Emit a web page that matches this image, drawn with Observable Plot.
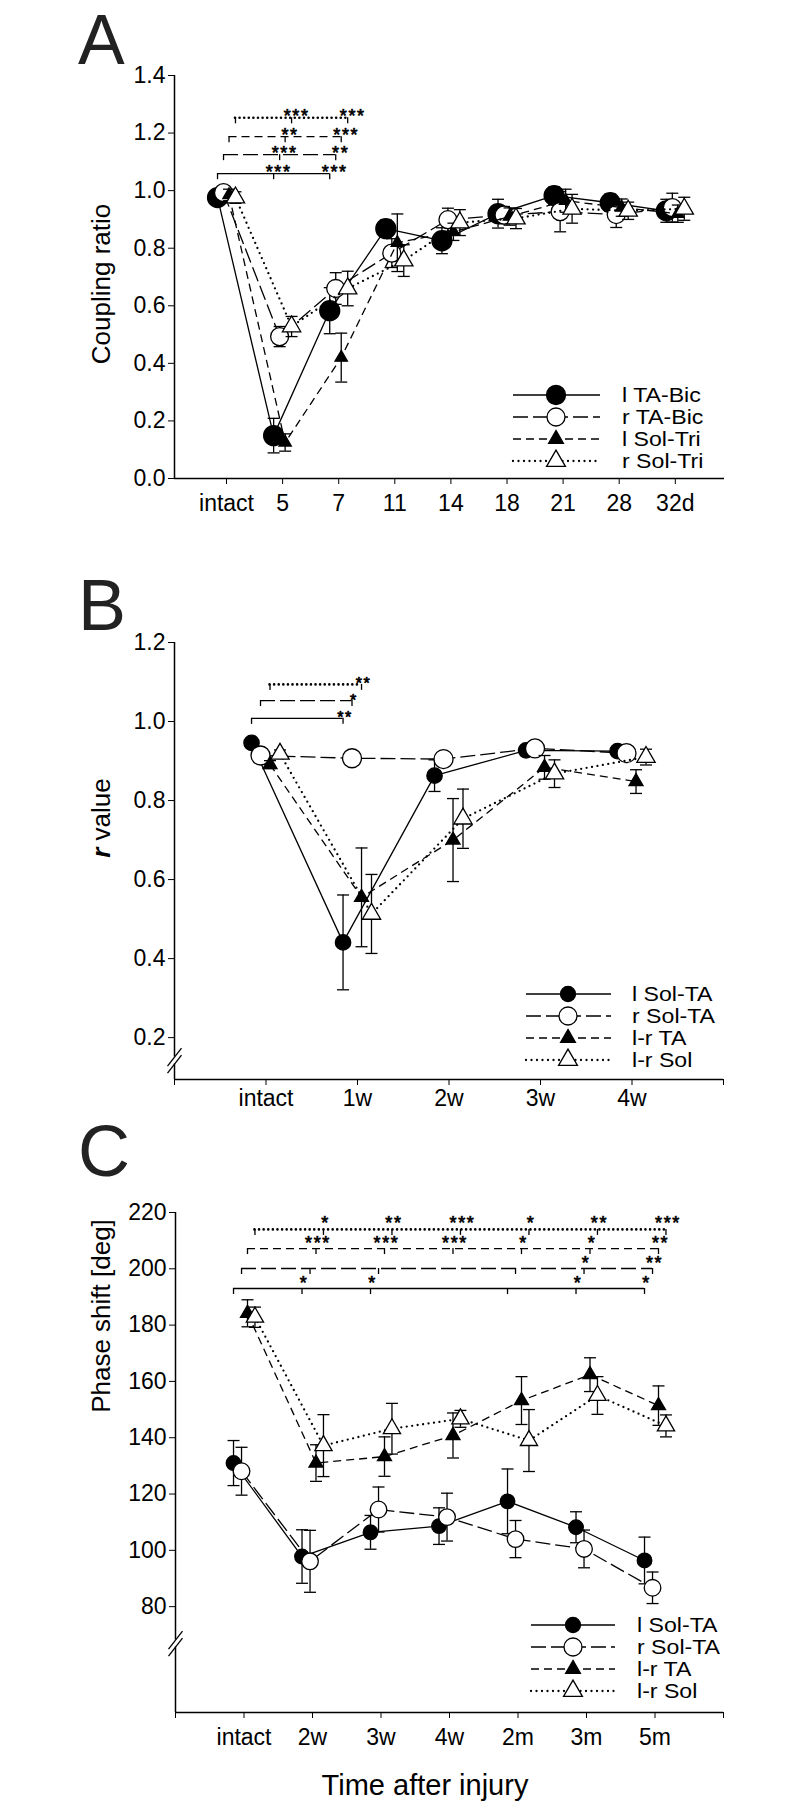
<!DOCTYPE html>
<html>
<head>
<meta charset="utf-8">
<script src="https://cdn.jsdelivr.net/npm/d3@7"></script>
<script src="https://cdn.jsdelivr.net/npm/@observablehq/plot@0.6"></script>
<style>
  html, body { margin: 0; padding: 0; background: #fff; }
  #wrap { position: relative; width: 800px; height: 1812px; overflow: hidden; }
  #wrap svg { position: absolute; left: 0; }
</style>
</head>
<body>
<div id="wrap"></div>
<script>
// ================= DATA =================
// Panel A : coupling ratio
const aTimes = ["intact", "5", "7", "11", "14", "18", "21", "28", "32d"];
const aSeries = ["l TA-Bic", "r TA-Bic", "l Sol-Tri", "r Sol-Tri"];
const aLTABic    = [0.976, 0.149, 0.583, 0.868, 0.826, 0.920, 0.983, 0.958, 0.930];
const aLTABicSE  = [0.020, 0.060, 0.080, 0.030, 0.045, 0.050, 0.030, 0.030, 0.040];
const aRTABic    = [0.993, 0.493, 0.660, 0.783, 0.899, 0.915, 0.927, 0.917, 0.941];
const aRTABicSE  = [0.020, 0.035, 0.055, 0.050, 0.040, 0.030, 0.070, 0.045, 0.050];
const aLSolTri   = [0.985, 0.125, 0.420, 0.819, 0.857, 0.910, 0.965, 0.941, 0.920];
const aLSolTriSE = [0.020, 0.030, 0.085, 0.100, 0.030, 0.030, 0.040, 0.030, 0.030];
const aRSolTri   = [0.976, 0.528, 0.660, 0.757, 0.889, 0.903, 0.937, 0.930, 0.937];
const aRSolTriSE = [0.020, 0.035, 0.060, 0.055, 0.045, 0.035, 0.050, 0.030, 0.040];
const aYTicks = [0, 0.2, 0.4, 0.6, 0.8, 1.0, 1.2, 1.4];
const aSigLevels = [1.059, 1.125, 1.1875, 1.253];
const aSigStars = [["", "***", "***"], ["", "***", "**"], ["", "**", "***"], ["", "***", "***"]];

// Panel B : r value
const bTimes = ["intact", "1w", "2w", "3w", "4w"];
const bSeries = ["l Sol-TA", "r Sol-TA", "l-r TA", "l-r Sol"];
const bLSolTA   = [0.946, 0.441, 0.863, 0.927, 0.925];
const bLSolTASE = [0.010, 0.120, 0.040, 0.010, 0.010];
const bRSolTA   = [0.914, 0.907, 0.905, 0.932, 0.920];
const bRSolTASE = [0.010, 0.010, 0.010, 0.010, 0.010];
const bLrTA     = [0.891, 0.555, 0.700, 0.884, 0.848];
const bLrTASE   = [0.010, 0.125, 0.105, 0.030, 0.030];
const bLrSol    = [0.918, 0.513, 0.754, 0.868, 0.910];
const bLrSolSE  = [0.010, 0.100, 0.075, 0.035, 0.020];
const bYTicks = [0.2, 0.4, 0.6, 0.8, 1.0, 1.2];
const bSigLevels = [1.008, 1.053, 1.094];
const bSigStars = [["", "**"], ["", "*"], ["", "**"]];

// Panel C : phase shift
const cTimes = ["intact", "2w", "3w", "4w", "2m", "3m", "5m"];
const cSeries = ["l Sol-TA", "r Sol-TA", "l-r TA", "l-r Sol"];
const cLSolTA   = [131.0, 97.8, 106.4, 108.6, 117.4, 108.2, 96.4];
const cLSolTASE = [8.0, 9.5, 6.0, 6.5, 11.5, 5.5, 8.3];
const cRSolTA   = [128.1, 96.1, 114.5, 111.8, 104.0, 100.5, 86.7];
const cRSolTASE = [8.5, 11.0, 8.0, 8.5, 6.6, 6.7, 5.6];
const cLrTA     = [184.2, 131.0, 133.3, 140.8, 153.2, 162.4, 151.4];
const cLrTASE   = [4.8, 6.5, 7.0, 8.0, 8.5, 6.0, 7.0];
const cLrSol    = [182.8, 137.2, 143.2, 146.7, 139.0, 155.0, 144.2];
const cLrSolSE  = [3.6, 11.0, 9.0, 3.0, 11.0, 6.7, 3.9];
const cYTicks = [80, 100, 120, 140, 160, 180, 200, 220];
const cSigLevels = [193.0, 200.1, 207.2, 214.0];
const cSigStars = [
  ["", "*", "*", "", "", "*", "*"],
  ["", "", "", "", "", "*", "**"],
  ["", "***", "***", "***", "*", "*", "**"],
  ["", "*", "**", "***", "*", "**", "***"]
];
const cSigTickTimes = [0, 1, 2, 4, 5, 6];

// ================= STYLE / LAYOUT =================
const FONT = '"Liberation Sans", Arial, Helvetica, sans-serif';
const lineStyles = [
  {dash: null, cap: "butt", width: 1.3, barWidth: 1.3},
  {dash: "15,5", cap: "butt", width: 1.3, barWidth: 1.3},
  {dash: "8,5", cap: "butt", width: 1.3, barWidth: 1.3},
  {dash: "0,5.5", cap: "round", width: 2.3, barWidth: 2.6}
];
const symStyles = [
  {symbol: "circle", fill: "black"},
  {symbol: "circle", fill: "white"},
  {symbol: "triangle", fill: "black"},
  {symbol: "triangle", fill: "white"}
];
const capSymbol = {
  draw(ctx, size) { const w = Math.sqrt(size / Math.PI); ctx.moveTo(-w, 0); ctx.lineTo(w, 0); }
};

const wrap = document.getElementById("wrap");

function makePanel(P) {
  const c = P.cfg;
  const pxX = (800 - c.ml - c.mr) / (c.xDomain[1] - c.xDomain[0]);
  const pxY = (c.height - c.mt - c.mb) / (c.yDomain[1] - c.yDomain[0]);
  const x0 = c.xDomain[0], y0 = c.yDomain[0], yTop = c.yDomain[1];
  const marks = [];
  // axis lines
  marks.push(Plot.ruleY([y0], {stroke: "black", strokeWidth: 1.5}));
  if (c.brk != null) {
    const g = 3.5 / pxY;
    marks.push(Plot.ruleX([x0], {y1: y0, y2: c.brk - g, stroke: "black", strokeWidth: 1.5}));
    marks.push(Plot.ruleX([x0], {y1: c.brk + g, y2: yTop, stroke: "black", strokeWidth: 1.5}));
    const bl = [-g, g].map(o => ({x1: x0 - 7 / pxX, y1: c.brk + o - 9 / pxY, x2: x0 + 7 / pxX, y2: c.brk + o + 9 / pxY}));
    marks.push(Plot.link(bl, {x1: "x1", y1: "y1", x2: "x2", y2: "y2", stroke: "black", strokeWidth: 1.3}));
  } else {
    marks.push(Plot.ruleX([x0], {y1: y0, y2: yTop, stroke: "black", strokeWidth: 1.5}));
  }
  // significance bars
  P.sig.forEach(b => {
    const off = c.dodge[b.owner];
    const st = lineStyles[b.style];
    const last = b.stars.length - 1;
    marks.push(Plot.ruleY([b.level], {x1: off, x2: last + off, stroke: "black", strokeWidth: st.barWidth,
      strokeDasharray: st.dash === "0,5.5" ? "0,4.6" : st.dash, strokeLinecap: st.cap}));
    const tickRows = b.ticks.map(i => ({x: i + off, y1: b.level, y2: b.level - 6 / pxY}));
    marks.push(Plot.ruleX(tickRows, {x: "x", y1: "y1", y2: "y2", stroke: "black", strokeWidth: 1.3}));
    const starRows = b.stars.map((s, i) => ({x: i + off, y: b.level, s})).filter(d => d.s);
    marks.push(Plot.text(starRows, {x: "x", y: "y", text: "s", dx: c.starDx, dy: c.starDy, lineAnchor: "bottom",
      fontSize: c.starSize, fill: "black", stroke: "black", strokeWidth: 0.7}));
  });
  // series
  P.values.forEach((vals, k) => {
    const rows = vals.map((v, i) => ({x: i + c.dodge[k], y: v, e: P.errors[k][i]}));
    const st = lineStyles[k], sy = symStyles[k];
    marks.push(Plot.ruleX(rows, {x: "x", y1: d => d.y - d.e, y2: d => d.y + d.e, stroke: "black", strokeWidth: 1.3}));
    marks.push(Plot.dot(rows, {x: "x", y: d => d.y - d.e, symbol: capSymbol, r: 6, stroke: "black", strokeWidth: 1.3, fill: "none"}));
    marks.push(Plot.dot(rows, {x: "x", y: d => d.y + d.e, symbol: capSymbol, r: 6, stroke: "black", strokeWidth: 1.3, fill: "none"}));
    marks.push(Plot.line(rows, {x: "x", y: "y", stroke: "black", strokeWidth: st.width, strokeDasharray: st.dash, strokeLinecap: st.cap}));
    marks.push(Plot.dot(rows, {x: "x", y: "y", symbol: sy.symbol, r: c.r[k], fill: sy.fill, stroke: "black", strokeWidth: 1.3}));
  });
  const svg = Plot.plot({
    width: 800, height: c.height,
    marginTop: c.mt, marginBottom: c.mb, marginLeft: c.ml, marginRight: c.mr,
    style: {fontFamily: FONT, fontSize: "23px", color: "black", background: "transparent", overflow: "visible"},
    x: {domain: c.xDomain, ticks: c.xTicks, tickFormat: v => (P.times[v] ?? ""), tickSize: 6, tickPadding: c.xPad, label: null},
    y: {domain: c.yDomain, ticks: P.yTicks, tickFormat: c.yFmt, tickSize: 6, tickPadding: 3, label: null},
    marks
  });
  // widen the significance asterisks a little (letter spacing only)
  d3.select(svg).selectAll("text").filter(function () { return /^\*+$/.test(this.textContent); })
    .attr("letter-spacing", "1.6px");
  svg.style.top = c.top + "px";
  wrap.appendChild(svg);
}

const sigBars = (levels, stars, owners, styles, ticksFn) =>
  levels.map((level, j) => ({level, stars: stars[j], owner: owners[j], style: styles[j], ticks: ticksFn(stars[j])}));

makePanel({
  times: aTimes, yTicks: aYTicks,
  values: [aLTABic, aRTABic, aLSolTri, aRSolTri],
  errors: [aLTABicSE, aRTABicSE, aLSolTriSE, aRSolTriSE],
  sig: sigBars(aSigLevels, aSigStars, [0, 1, 2, 3], [0, 1, 2, 3], s => s.map((_, i) => i)),
  cfg: {top: 0, height: 540, mt: 75, mb: 62, ml: 174, mr: 76, xDomain: [-0.927, 8.877], yDomain: [0, 1.4],
        xTicks: [0, 1, 2, 3, 4, 5, 6, 7, 8], xPad: 10, yFmt: d3.format(".1f"),
        dodge: [-0.16, -0.053, 0.045, 0.16], r: [10, 9, 4.6, 6.8], starDx: 5, starDy: 4, starSize: 18, brk: null}
});

makePanel({
  times: bTimes, yTicks: bYTicks,
  values: [bLSolTA, bRSolTA, bLrTA, bLrSol],
  errors: [bLSolTASE, bRSolTASE, bLrTASE, bLrSolSE],
  sig: sigBars(bSigLevels, bSigStars, [0, 1, 2], [0, 1, 3], s => s.map((_, i) => i)),
  cfg: {top: 540, height: 590, mt: 102, mb: 51, ml: 174, mr: 77, xDomain: [-1, 5], yDomain: [0.094, 1.2],
        xTicks: [-1, 0, 1, 2, 3, 4, 5], xPad: 4, yFmt: d3.format(".1f"),
        dodge: [-0.158, -0.06, 0.044, 0.153], r: [7.7, 9.5, 5.2, 6.8], starDx: 2, starDy: 5, starSize: 16, brk: 0.142}
});

makePanel({
  times: cTimes, yTicks: cYTicks,
  values: [cLSolTA, cRSolTA, cLrTA, cLrSol],
  errors: [cLSolTASE, cRSolTASE, cLrTASE, cLrSolSE],
  sig: sigBars(cSigLevels, cSigStars, [0, 1, 2, 3], [0, 1, 2, 3],
               s => Array.from(new Set([...cSigTickTimes, ...s.map((v, i) => v ? i : null).filter(v => v != null)]))),
  cfg: {top: 1130, height: 682, mt: 82, mb: 100, ml: 175, mr: 77, xDomain: [-1, 7], yDomain: [42.4, 220],
        xTicks: [-1, 0, 1, 2, 3, 4, 5, 6, 7], xPad: 10, yFmt: d3.format("d"),
        dodge: [-0.153, -0.036, 0.051, 0.16], r: [7.3, 8.3, 5.2, 6.4], starDx: 2, starDy: 0, starSize: 18, brk: 66.9}
});

// ================= OVERLAY: letters, titles, legends =================
const ov = d3.select(wrap).append("svg")
  .attr("width", 800).attr("height", 1812)
  .style("top", "0px").style("pointer-events", "none")
  .style("font-family", FONT);

[["A", 64, 70], ["B", 630, 72], ["C", 1176, 72]].forEach(([t, y, fs]) =>
  ov.append("text").attr("x", 78).attr("y", y).attr("font-size", fs).attr("fill", "#222").text(t));

function yTitle(x, y, build) {
  const t = ov.append("text").attr("transform", `translate(${x},${y}) rotate(-90)`)
    .attr("text-anchor", "middle").attr("font-size", 26).attr("fill", "black");
  build(t);
}
yTitle(110, 284, t => t.text("Coupling ratio"));
yTitle(110, 818, t => { t.append("tspan").attr("font-style", "italic").attr("font-weight", "bold").text("r"); t.append("tspan").text(" value"); });
yTitle(110, 1316, t => t.text("Phase shift [deg]"));

ov.append("text").attr("x", 425).attr("y", 1795).attr("text-anchor", "middle")
  .attr("font-size", 29).attr("fill", "black").text("Time after injury");

function legend(names, L) {
  names.forEach((name, k) => {
    const y = L.y0 + k * L.dy;
    const st = lineStyles[k], sy = symStyles[k];
    ov.append("line").attr("x1", L.l1).attr("x2", L.l2).attr("y1", y).attr("y2", y)
      .attr("stroke", "black").attr("stroke-width", st.width)
      .attr("stroke-dasharray", st.dash).attr("stroke-linecap", st.cap);
    const type = sy.symbol === "circle" ? d3.symbolCircle : d3.symbolTriangle;
    ov.append("path").attr("d", d3.symbol(type, Math.PI * L.r[k] * L.r[k])())
      .attr("transform", `translate(${L.m},${y})`)
      .attr("fill", sy.fill).attr("stroke", "black").attr("stroke-width", 1.3);
    ov.append("text").attr("transform", `translate(${L.t},${y}) scale(1.18,1)`).attr("dy", "0.35em")
      .attr("font-size", 19.6).attr("fill", "black").text(name);
  });
}
legend(aSeries, {y0: 395, dy: 22, l1: 513, l2: 600, m: 556, t: 622, r: [9.5, 9, 5.5, 7]});
legend(bSeries, {y0: 994, dy: 22, l1: 526, l2: 611, m: 568, t: 632, r: [7.5, 9, 5.5, 7]});
legend(cSeries, {y0: 1625, dy: 22, l1: 531, l2: 615, m: 573, t: 637, r: [7.5, 9, 5.5, 7]});
</script>
</body>
</html>
